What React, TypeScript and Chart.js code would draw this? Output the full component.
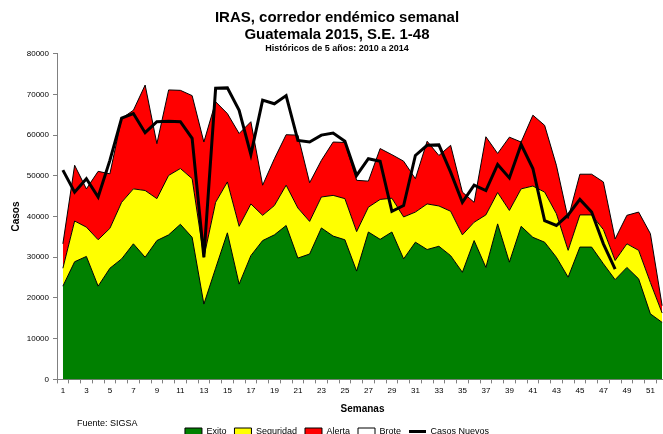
import React, { useEffect, useRef } from "react";
import { Chart, registerables } from "chart.js";

Chart.register(...registerables);

// Weeks (Semanas)
const weeks: string[] = [
  "1","2","3","4","5","6","7","8","9","10","11","12","13","14","15","16","17","18","19","20",
  "21","22","23","24","25","26","27","28","29","30","31","32","33","34","35","36","37","38","39","40",
  "41","42","43","44","45","46","47","48","49","50","51","52",
];

// Corridor levels (cumulative upper limits of each zone)
const exito: number[] = [
  22900, 28900, 30200, 22900, 27300, 29600, 33300, 30000, 34100, 35500,
  38100, 34900, 18500, 27300, 36000, 23400, 30400, 34100, 35500, 37800,
  29800, 30800, 37200, 35200, 34300, 26600, 36200, 34400, 36200, 29600,
  33700, 31900, 32700, 30400, 26300, 34100, 27500, 38200, 28800, 37600,
  34900, 33700, 30000, 25100, 32500, 32500, 28400, 24500, 27500, 24700,
  16100, 14000,
];
const seguridad: number[] = [
  27300, 38900, 37400, 34300, 37100, 43500, 46800, 46400, 44400, 50100,
  51800, 49300, 30000, 43500, 48500, 37600, 43100, 40300, 42700, 47700,
  42100, 38800, 44800, 45200, 44400, 36300, 42300, 44200, 44500, 39900,
  41100, 43100, 42600, 41300, 35500, 38600, 40400, 45900, 41500, 46800,
  47500, 46000, 40700, 31700, 40400, 40400, 36800, 29200, 33300, 31700,
  23800, 16300,
];
const alerta: number[] = [
  33300, 52600, 46800, 51100, 50500, 64100, 66100, 72300, 57900, 71100,
  71000, 69700, 58300, 68200, 65300, 60400, 63300, 47700, 54200, 60100,
  60000, 48300, 53800, 58300, 58200, 48900, 48700, 56700, 55200, 53600,
  49300, 58500, 55000, 57500, 46000, 43500, 59600, 55500, 59500, 58300,
  64900, 62400, 52600, 39500, 50400, 50400, 48500, 34500, 40300, 41100,
  35800, 18100,
];
// Brote zone is drawn in white and cannot be read from the picture
const brote: (number | null)[] = weeks.map(() => null);

// Casos nuevos 2015, S.E. 1-48
const casosNuevos: number[] = [
  51400, 46000, 49300, 44800, 53800, 64200, 65300, 60600, 63300, 63400,
  63300, 59200, 30000, 71500, 71600, 66100, 55200, 68600, 67700, 69700,
  58700, 58300, 60000, 60500, 58500, 50100, 54200, 53600, 41300, 42700,
  55000, 57500, 57600, 50900, 43500, 47700, 46400, 52800, 49500, 57700,
  51800, 39000, 37800, 40400, 44200, 41100, 33300, 27100,
];

const yTicks: number[] = [0, 10000, 20000, 30000, 40000, 50000, 60000, 70000, 80000];

const FONT = '"Liberation Sans", Arial, Helvetica, sans-serif';
const NARROW = '"Liberation Sans Narrow", "Arial Narrow", "Liberation Sans", Arial, sans-serif';

const sourcePlugin = {
  id: "sourceNote",
  afterDraw(chart: any) {
    const ctx = chart.ctx;
    ctx.save();
    ctx.font = `9px ${FONT}`;
    ctx.fillStyle = "#000";
    ctx.textBaseline = "middle";
    ctx.textAlign = "left";
    ctx.fillText("Fuente: SIGSA", 77, 424);
    ctx.restore();
  },
};

export default function App() {
  const ref = useRef<HTMLCanvasElement | null>(null);

  useEffect(() => {
    if (!ref.current) return;
    const areaCommon = {
      type: "line" as const,
      borderColor: "#000",
      borderWidth: 1,
      pointRadius: 0,
      pointHoverRadius: 0,
      pointStyle: "rect",
      tension: 0,
    };
    const chart = new Chart(ref.current, {
      type: "line",
      data: {
        labels: weeks,
        datasets: [
          { ...areaCommon, label: "Exito", data: exito, backgroundColor: "#008000", fill: "origin", order: 1 },
          { ...areaCommon, label: "Seguridad", data: seguridad, backgroundColor: "#FFFF00", fill: "-1", order: 2 },
          { ...areaCommon, label: "Alerta", data: alerta, backgroundColor: "#FF0000", fill: "-1", order: 3 },
          { ...areaCommon, label: "Brote", data: brote, backgroundColor: "#FFFFFF", fill: false, order: 4 },
          {
            type: "line",
            label: "Casos Nuevos",
            data: casosNuevos,
            borderColor: "#000",
            backgroundColor: "#000",
            borderWidth: 3,
            pointRadius: 0,
            pointHoverRadius: 0,
            pointStyle: "line",
            fill: false,
            tension: 0,
            order: 0,
          },
        ],
      },
      options: {
        responsive: false,
        animation: false,
        events: [],
        layout: { padding: { left: 6, right: 6, top: 0, bottom: 0 } },
        scales: {
          x: {
            type: "category",
            offset: true,
            border: { color: "#808080", width: 1 },
            grid: { display: true, drawOnChartArea: false, drawTicks: true, tickLength: 4, color: "#808080", offset: true },
            ticks: {
              autoSkip: false,
              maxRotation: 0,
              minRotation: 0,
              padding: 3,
              color: "#000",
              font: { family: FONT, size: 8 },
              callback: (_v: any, i: number) => (i % 2 === 0 ? weeks[i] : ""),
            },
            title: {
              display: true,
              text: "Semanas",
              color: "#000",
              font: { family: FONT, size: 10, weight: "bold" },
              padding: { top: 4, bottom: 4 },
            },
          },
          y: {
            min: 0,
            max: 80000,
            border: { color: "#808080", width: 1 },
            grid: { display: true, drawOnChartArea: false, drawTicks: true, tickLength: 4, color: "#808080" },
            afterBuildTicks: (scale: any) => {
              scale.ticks = yTicks.map((v) => ({ value: v }));
            },
            afterFit: (scale: any) => {
              scale.width = 51;
            },
            ticks: {
              padding: 4,
              color: "#000",
              font: { family: FONT, size: 8 },
              callback: (v: any) => String(v),
            },
            title: {
              display: true,
              text: "Casos",
              color: "#000",
              font: { family: FONT, size: 10, weight: "bold" },
              padding: { top: 4, bottom: 4 },
            },
          },
        },
        plugins: {
          title: {
            display: true,
            text: ["IRAS, corredor endémico semanal", "Guatemala 2015, S.E. 1-48"],
            color: "#000",
            font: { family: FONT, size: 15, weight: "bold", lineHeight: 1.13 },
            padding: { top: 9, bottom: 0 },
          },
          subtitle: {
            display: true,
            text: "Históricos de 5 años: 2010 a 2014",
            color: "#000",
            font: { family: FONT, size: 9, weight: "bold", lineHeight: 1.2 },
            padding: { top: 0, bottom: 0 },
          },
          legend: {
            display: true,
            position: "bottom",
            labels: {
              usePointStyle: true,
              pointStyleWidth: 17,
              boxWidth: 17,
              boxHeight: 7,
              padding: 8,
              color: "#000",
              font: { family: NARROW, size: 9 },
              sort: (a: any, b: any) => a.datasetIndex - b.datasetIndex,
            },
          },
          tooltip: { enabled: false },
        },
      },
      plugins: [sourcePlugin],
    } as any);
    return () => chart.destroy();
  }, []);

  return (
    <div
      style={{
        position: "fixed",
        left: 0,
        top: 0,
        width: 663,
        height: 434,
        overflow: "hidden",
        background: "#fff",
      }}
    >
      <canvas ref={ref} width={674} height={446} style={{ display: "block" }} />
    </div>
  );
}
